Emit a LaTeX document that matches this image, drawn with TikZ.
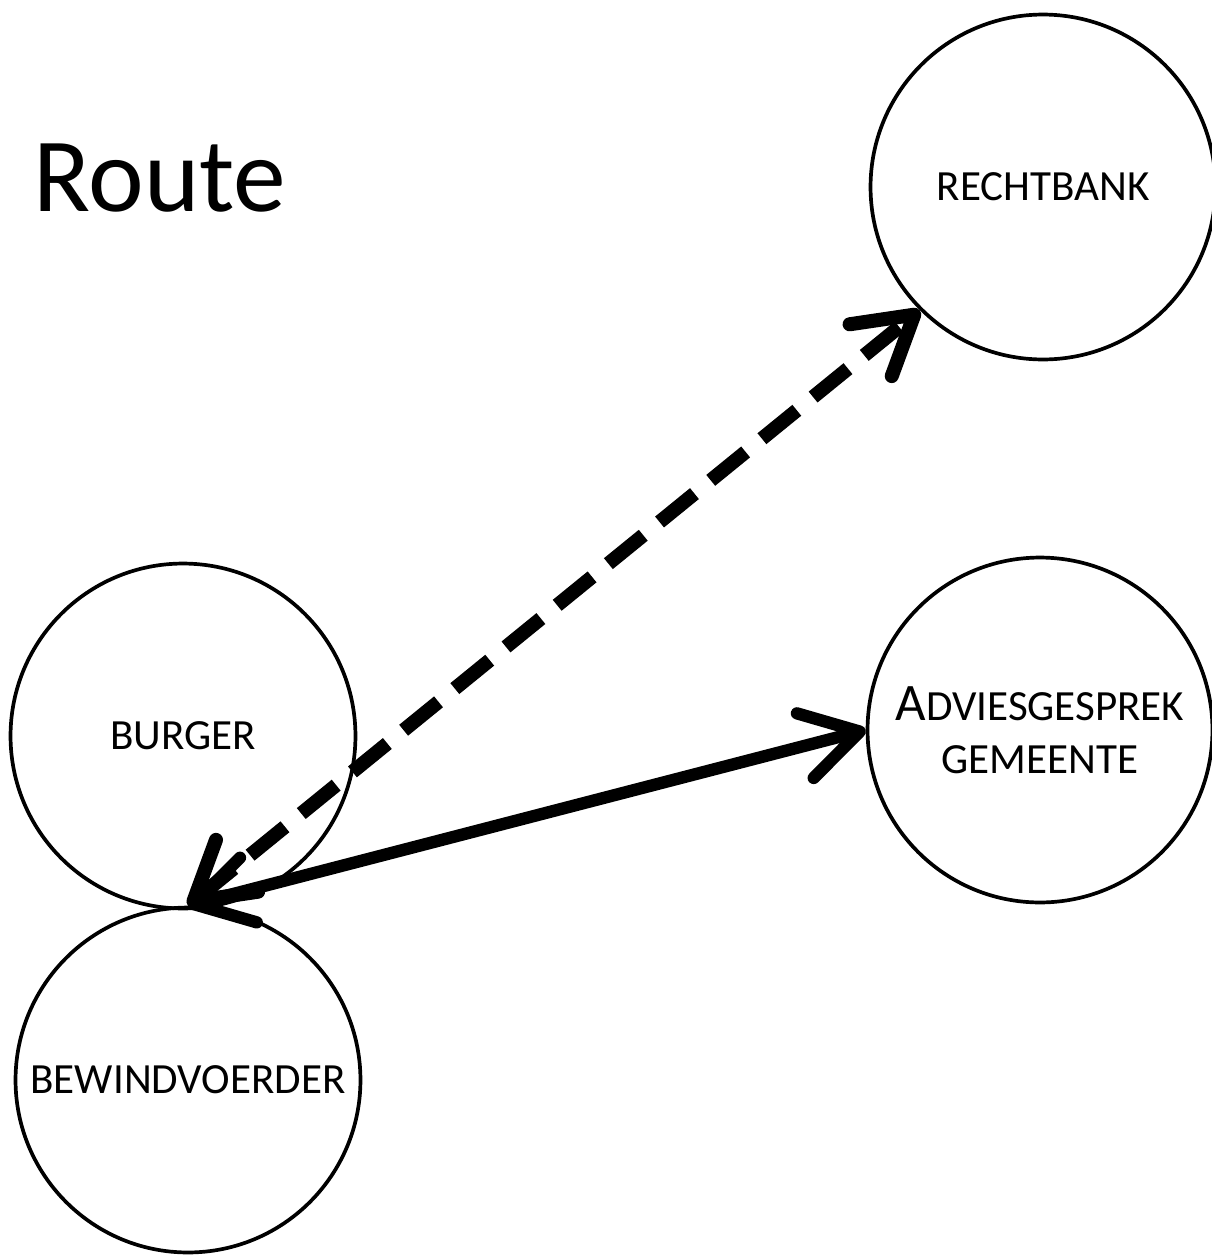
\documentclass[tikz,border=0pt]{standalone}
\usepackage{fontspec}
\setmainfont{Carlito}
\usetikzlibrary{arrows.meta}
\begin{document}
\begin{tikzpicture}[x=0.02cm,y=-0.02cm,
  state/.style={draw, circle, line width=2.1pt, minimum size=6.9cm, inner sep=0pt,
    font=\fontsize{24.5}{30}\selectfont, align=center},
  barb/.tip={Straight Barb[length=32pt,width=38pt,round]},
  conn/.style={line width=7pt, {barb}-{barb}},
]
\useasboundingbox (0,0) rectangle (1212,1258);
\node[font=\fontsize{60}{70}\selectfont] (title) at (160,178) {Route};
\node[state] (rb) at (1043,187) {RECHTBANK};
\node[state] (ad) at (1040,730) {{\fontsize{30}{30}\selectfont A}DVIESGESPREK\\GEMEENTE};
\node[state] (bu) at (183,736) {BURGER};
\node[state] (bw) at (188,1080) {BEWINDVOERDER};
\draw[conn] (bw.north) -- (ad.180);
\draw[conn, line width=8pt, dash pattern=on 0.9cm off 0.42cm] (bw.north) -- (rb.225);
\end{tikzpicture}
\end{document}
